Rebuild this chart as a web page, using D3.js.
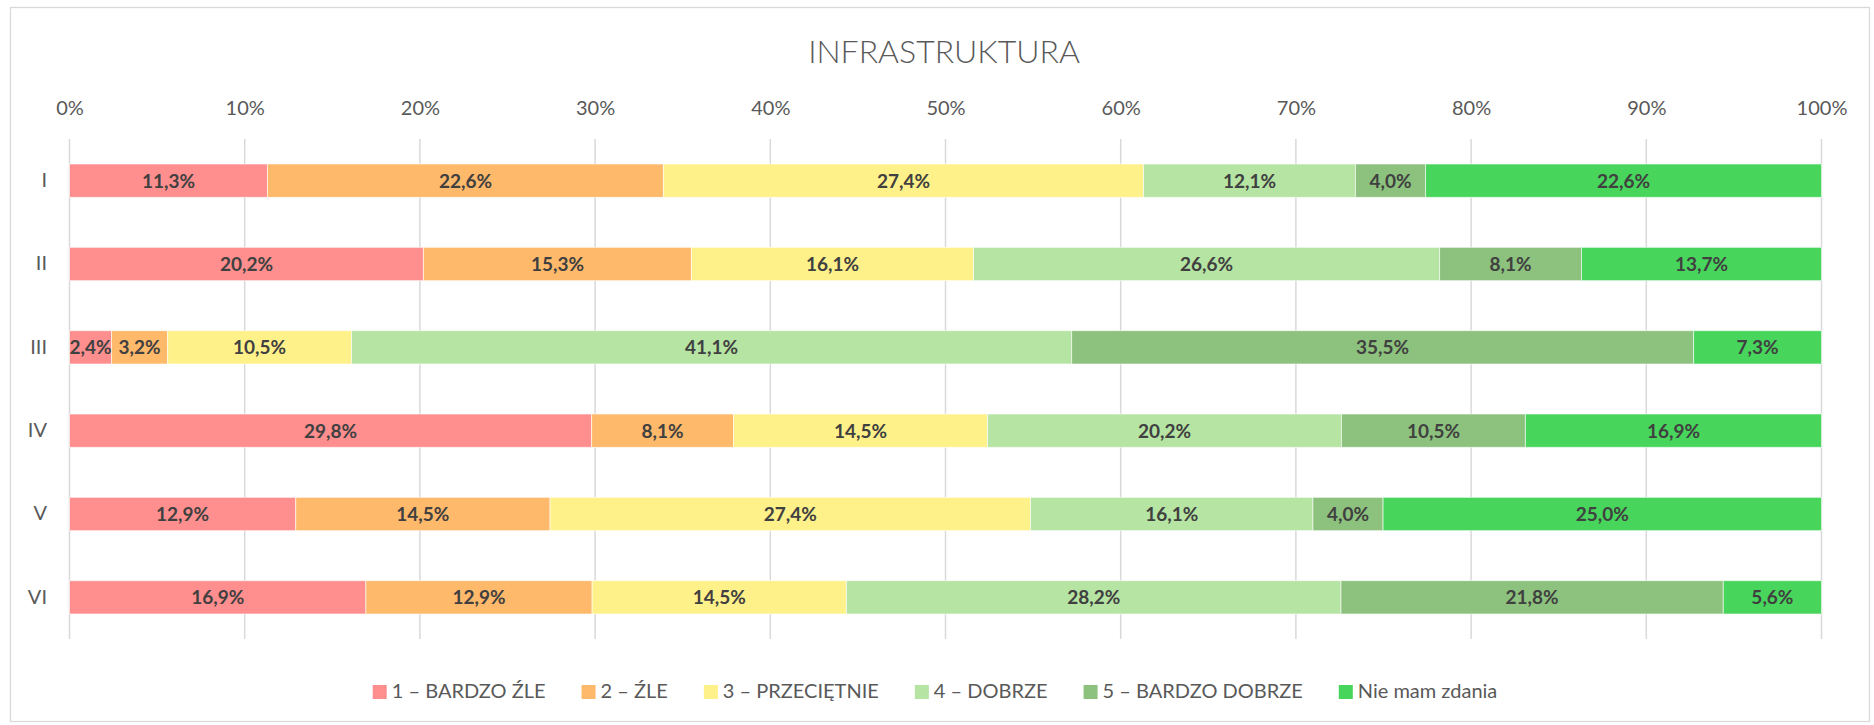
<!DOCTYPE html>
<html>
<head>
<meta charset="utf-8">
<script src="https://cdn.jsdelivr.net/npm/d3@7"></script>
<style>
  html, body { margin: 0; padding: 0; background: #fff; }
  svg { display: block; font-family: Lato, "Open Sans", sans-serif; }
</style>
</head>
<body>
<svg id="chart" width="1874" height="725"></svg>
<script>
// Survey answers per area, shares in percent
const categories = ["I", "II", "III", "IV", "V", "VI"];
const seriesNames = ["1 – BARDZO ŹLE", "2 – ŹLE", "3 – PRZECIĘTNIE", "4 – DOBRZE", "5 – BARDZO DOBRZE", "Nie mam zdania"];
const bardzoZle   = [11.3, 20.2,  2.4, 29.8, 12.9, 16.9];
const zle         = [22.6, 15.3,  3.2,  8.1, 14.5, 12.9];
const przecietnie = [27.4, 16.1, 10.5, 14.5, 27.4, 14.5];
const dobrze      = [12.1, 26.6, 41.1, 20.2, 16.1, 28.2];
const bardzoDobrze= [ 4.0,  8.1, 35.5, 10.5,  4.0, 21.8];
const nieMamZdania= [22.6, 13.7,  7.3, 16.9, 25.0,  5.6];
const tickValues  = [0, 0.1, 0.2, 0.3, 0.4, 0.5, 0.6, 0.7, 0.8, 0.9, 1.0];
const colors = ["#FF8F8F", "#FFB96B", "#FFF18A", "#B5E4A3", "#8CC27D", "#47D55C"];

const seriesValues = [bardzoZle, zle, przecietnie, dobrze, bardzoDobrze, nieMamZdania];

// One row per category, each series normalised so the row totals 100%
const rows = categories.map((c, i) => {
  const row = { cat: c };
  const total = d3.sum(seriesValues, s => s[i]);
  seriesNames.forEach((n, k) => { row[n] = seriesValues[k][i] / total; row["raw" + k] = seriesValues[k][i]; });
  return row;
});
const stacked = d3.stack().keys(seriesNames)(rows);

const svg = d3.select("#chart");

// chart area frame
svg.append("rect")
  .attr("x", 10.5).attr("y", 7.5).attr("width", 1859).attr("height", 714)
  .attr("fill", "#fff").attr("stroke", "#d9d9d9").attr("stroke-width", 1.3);

const plot = { left: 69.5, right: 1821.5, top: 139, bottom: 639 };

const x = d3.scaleLinear().domain([0, 1]).range([plot.left, plot.right]);
const y = d3.scaleBand().domain(categories).range([plot.top, plot.bottom])
  .paddingInner(0.6).paddingOuter(0.3);

// title
svg.append("text")
  .attr("x", 944).attr("y", 63)
  .attr("text-anchor", "middle")
  .attr("font-size", 32).attr("font-weight", 300)
  .attr("fill", "#595959")
  .text("INFRASTRUKTURA");

// vertical gridlines
svg.append("g").selectAll("line").data(tickValues).join("line")
  .attr("x1", d => x(d)).attr("x2", d => x(d))
  .attr("y1", plot.top).attr("y2", plot.bottom)
  .attr("stroke", "#d9d9d9").attr("stroke-width", 1.5);

// top percentage axis
const xAxis = d3.axisTop(x).tickValues(tickValues)
  .tickFormat(d3.format(".0%")).tickSize(0).tickPadding(0);
const gx = svg.append("g").attr("transform", `translate(0,115)`).call(xAxis);
gx.select(".domain").remove();
gx.selectAll("text").attr("font-size", 20).attr("fill", "#595959")
  .attr("font-family", "Lato, sans-serif").attr("dy", 0);

// category axis
const yAxis = d3.axisLeft(y).tickSize(0).tickPadding(0);
const gy = svg.append("g").attr("transform", `translate(47,0)`).call(yAxis);
gy.select(".domain").remove();
gy.selectAll("text").attr("font-size", 20).attr("fill", "#595959")
  .attr("font-family", "Lato, sans-serif");

// stacked bars
const fmt = v => d3.format(".1f")(v).replace(".", ",") + "%";
const layers = svg.append("g").selectAll("g").data(stacked).join("g")
  .attr("fill", (d, i) => colors[i]);

layers.selectAll("rect").data(d => d).join("rect")
  .attr("x", d => x(d[0]))
  .attr("y", d => y(d.data.cat))
  .attr("width", d => x(d[1]) - x(d[0]))
  .attr("height", y.bandwidth())
  .attr("stroke", "#ffffff").attr("stroke-width", 1).attr("stroke-opacity", 0.6);

// value labels
stacked.forEach((layer, k) => {
  svg.append("g").selectAll("text").data(layer).join("text")
    .attr("x", d => (x(d[0]) + x(d[1])) / 2)
    .attr("y", d => y(d.data.cat) + y.bandwidth() / 2)
    .attr("dy", "0.36em")
    .attr("text-anchor", "middle")
    .attr("font-size", 19).attr("font-weight", 700)
    .attr("fill", "#404040")
    .text(d => fmt(d.data["raw" + k]));
});

// legend, centred under the plot
const legend = svg.append("g");
const items = legend.selectAll("g").data(seriesNames).join("g");
items.append("rect").attr("width", 14).attr("height", 14).attr("y", -13)
  .attr("fill", (d, i) => colors[i]);
items.append("text").attr("x", 19).attr("y", 0)
  .attr("font-size", 20).attr("fill", "#595959").text(d => d);
let cursor = 0;
items.each(function () {
  const g = d3.select(this);
  g.attr("transform", `translate(${cursor},0)`);
  cursor += 19 + g.select("text").node().getComputedTextLength() + 36;
});
const legendWidth = cursor - 36;
legend.attr("transform", `translate(${935 - legendWidth / 2},698)`);
</script>
</body>
</html>
